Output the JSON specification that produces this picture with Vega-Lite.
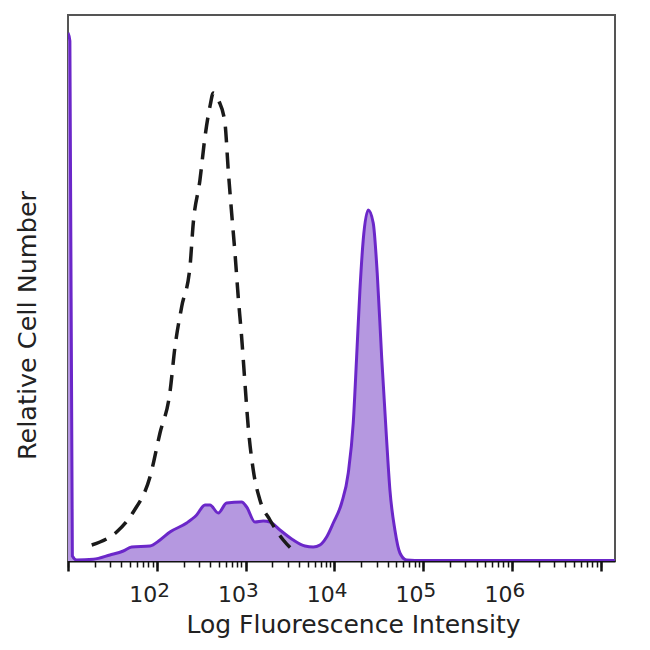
{
  "$schema": "https://vega.github.io/schema/vega-lite/v6.json",
  "width": 547,
  "height": 546,
  "autosize": "none",
  "padding": {"left": 68, "top": 15, "right": 35, "bottom": 89},
  "background": "white",
  "config": {
    "view": {"stroke": "#555555", "strokeWidth": 2},
    "font": "DejaVu Sans"
  },
  "datasets": {
    "stained": [
      {"intensity": 10, "count": 528}, {"intensity": 10.5, "count": 520}, {"intensity": 11.2, "count": 5},
      {"intensity": 12.5, "count": 1}, {"intensity": 19.3, "count": 1.7}, {"intensity": 29.7, "count": 6},
      {"intensity": 42, "count": 10}, {"intensity": 52.2, "count": 14}, {"intensity": 83.8, "count": 15},
      {"intensity": 108.7, "count": 21}, {"intensity": 140.8, "count": 29}, {"intensity": 217, "count": 38},
      {"intensity": 281, "count": 46}, {"intensity": 349, "count": 56}, {"intensity": 397, "count": 56},
      {"intensity": 493, "count": 48}, {"intensity": 612, "count": 58}, {"intensity": 903, "count": 59},
      {"intensity": 1029, "count": 54}, {"intensity": 1276, "count": 39}, {"intensity": 1582, "count": 40},
      {"intensity": 1883, "count": 39}, {"intensity": 2439, "count": 31}, {"intensity": 3444, "count": 21},
      {"intensity": 4667, "count": 15}, {"intensity": 5785, "count": 14}, {"intensity": 6887, "count": 16},
      {"intensity": 8185, "count": 24}, {"intensity": 9725, "count": 38}, {"intensity": 12080, "count": 58},
      {"intensity": 14350, "count": 88}, {"intensity": 16330, "count": 138}, {"intensity": 17830, "count": 204},
      {"intensity": 19420, "count": 271}, {"intensity": 21150, "count": 321}, {"intensity": 24090, "count": 351},
      {"intensity": 27420, "count": 338}, {"intensity": 30410, "count": 288}, {"intensity": 34120, "count": 204},
      {"intensity": 38810, "count": 121}, {"intensity": 42270, "count": 71}, {"intensity": 48090, "count": 31},
      {"intensity": 54810, "count": 8}, {"intensity": 65160, "count": 1}, {"intensity": 100000, "count": 0.5},
      {"intensity": 14500000, "count": 0.5}
    ],
    "control": [
      {"intensity": 18.5, "count": 16}, {"intensity": 22.9, "count": 19}, {"intensity": 35.3, "count": 29},
      {"intensity": 54.4, "count": 49}, {"intensity": 83.8, "count": 84}, {"intensity": 108.7, "count": 128},
      {"intensity": 140.8, "count": 169}, {"intensity": 160.3, "count": 214}, {"intensity": 190.6, "count": 254},
      {"intensity": 236.4, "count": 294}, {"intensity": 257.7, "count": 338}, {"intensity": 306.4, "count": 381},
      {"intensity": 349, "count": 424}, {"intensity": 400, "count": 456}, {"intensity": 432.7, "count": 468},
      {"intensity": 500, "count": 460}, {"intensity": 586, "count": 438}, {"intensity": 638, "count": 391},
      {"intensity": 697, "count": 348}, {"intensity": 760, "count": 308}, {"intensity": 827, "count": 264},
      {"intensity": 903, "count": 224}, {"intensity": 984, "count": 178}, {"intensity": 1072, "count": 134},
      {"intensity": 1221, "count": 91}, {"intensity": 1452, "count": 61}, {"intensity": 1883, "count": 41},
      {"intensity": 2660, "count": 21}, {"intensity": 3597, "count": 9}
    ]
  },
  "layer": [
    {
      "data": {"name": "stained"},
      "mark": {"type": "area", "interpolate": "monotone", "fill": "#b598e0", "fillOpacity": 1, "clip": true,
               "line": {"stroke": "#6b27c9", "strokeWidth": 3, "interpolate": "monotone"}},
      "encoding": {
        "x": {"field": "intensity", "type": "quantitative",
              "scale": {"type": "log", "domain": [10, 14500000], "nice": false},
              "axis": {"orient": "bottom", "values": [10, 100, 1000, 10000, 100000, 1000000, 10000000],
                       "grid": false, "domain": true, "domainColor": "#111111", "domainWidth": 2,
                       "ticks": true, "tickSize": 10, "tickWidth": 2.5, "tickColor": "#111111",
                       "labelExpr": "indexof([100,1000,10000,100000,1000000], datum.value) >= 0 ? '10' : ''",
                       "labelAlign": "right", "labelDx": 5, "labelBaseline": "alphabetic", "labelPadding": 30,
                       "labelFontSize": 22, "labelColor": "#222222", "labelOverlap": false, "labelFlush": false, "labelBound": false,
                       "title": "Log Fluorescence Intensity", "titleFontSize": 25, "titleFontWeight": "normal",
                       "titleColor": "#222222", "titleX": 285, "titleY": 71, "titleAnchor": null,
                       "titleAlign": "center", "titleBaseline": "alphabetic"}},
        "y": {"field": "count", "type": "quantitative",
              "scale": {"domain": [0, 546], "nice": false, "zero": true},
              "axis": {"grid": false, "domain": false, "ticks": false, "labels": false,
                       "title": "Relative Cell Number", "titleFontSize": 25.5, "titleFontWeight": "normal",
                       "titleColor": "#222222", "titleX": -33, "titleY": 310, "titleAngle": -90,
                       "titleAlign": "center", "titleBaseline": "alphabetic"}}
      }
    },
    {
      "data": {"name": "control"},
      "mark": {"type": "line", "interpolate": "monotone", "stroke": "#1a1a1a", "strokeWidth": 3.5,
               "strokeDash": [16, 10], "clip": true},
      "encoding": {
        "x": {"field": "intensity", "type": "quantitative",
              "scale": {"type": "log", "domain": [10, 14500000], "nice": false},
              "axis": {"orient": "bottom",
                       "values": [10,20,30,40,50,60,70,80,90,100,200,300,400,500,600,700,800,900,1000,2000,3000,4000,5000,6000,7000,8000,9000,10000,20000,30000,40000,50000,60000,70000,80000,90000,100000,200000,300000,400000,500000,600000,700000,800000,900000,1000000,2000000,3000000,4000000,5000000,6000000,7000000,8000000,9000000,10000000],
                       "grid": false, "domain": false,
                       "ticks": true, "tickSize": 6, "tickWidth": 1.5, "tickColor": "#111111",
                       "labelExpr": "datum.value == 100 ? '2' : datum.value == 1000 ? '3' : datum.value == 10000 ? '4' : datum.value == 100000 ? '5' : datum.value == 1000000 ? '6' : ''",
                       "labelAlign": "left", "labelDx": 6, "labelBaseline": "alphabetic", "labelPadding": 29,
                       "labelFontSize": 20, "labelColor": "#222222", "labelOverlap": false, "labelFlush": false, "labelBound": false,
                       "title": null}},
        "y": {"field": "count", "type": "quantitative"}
      }
    }
  ],
  "resolve": {"axis": {"x": "independent"}}
}
